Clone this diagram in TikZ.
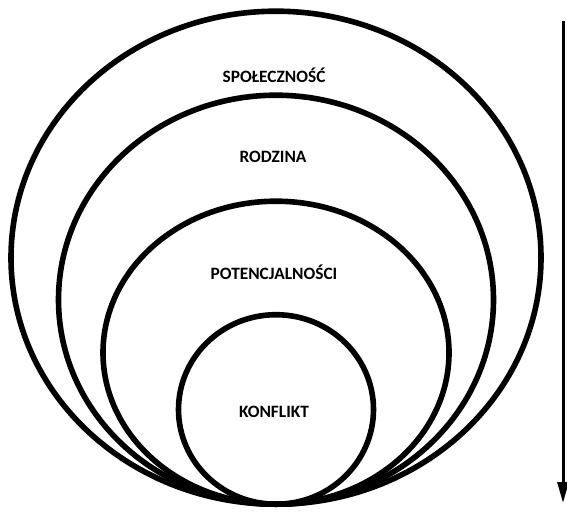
\documentclass[tikz,border=0pt]{standalone}
\usepackage{fontspec}
\setmainfont{Carlito}[BoldFont={Carlito Bold}]
\usepackage{tikz}
\usetikzlibrary{arrows.meta,positioning,shapes.geometric}
\definecolor{ink}{HTML}{000000}
\tikzset{
  >={Triangle[length=15.75pt,width=8.25pt]},
  ring/.style={ellipse,draw=ink,line width=4.2pt,inner sep=0pt,anchor=south},
  tag/.style={font=\bfseries\fontsize{13}{15}\selectfont,text=ink},
  scaleflow/.style={->,line width=2.25pt,color=ink},
}

\begin{document}
\begin{tikzpicture}[x=0.75pt,y=-0.75pt]
  \useasboundingbox (0,0) rectangle (567,514);
  \coordinate (base) at (276,507);

  \node[ring,minimum width=397.5pt,minimum height=369.75pt] (spol) at (base) {};
  \node[ring,minimum width=326.25pt,minimum height=306.75pt] (rodz) at (base) {};
  \node[ring,minimum width=259.5pt,minimum height=227.25pt] (pot) at (base) {};
  \node[ring,minimum width=146.25pt,minimum height=142.125pt] (konf) at (base) {};

  \node[tag] (spollab) at (274,75) {SPOŁECZNOŚĆ};
  \node[tag] (rodzlab) at (273,157) {RODZINA};
  \node[tag] (potlab) at (274,272) {POTENCJALNOŚCI};
  \node[tag] (konflab) at (274,412) {KONFLIKT};

  \coordinate (arrtop) at (563,21);
  \coordinate (arrbot) at (563,503);
  \draw[scaleflow] (arrtop) -- (arrbot);
\end{tikzpicture}
\end{document}
